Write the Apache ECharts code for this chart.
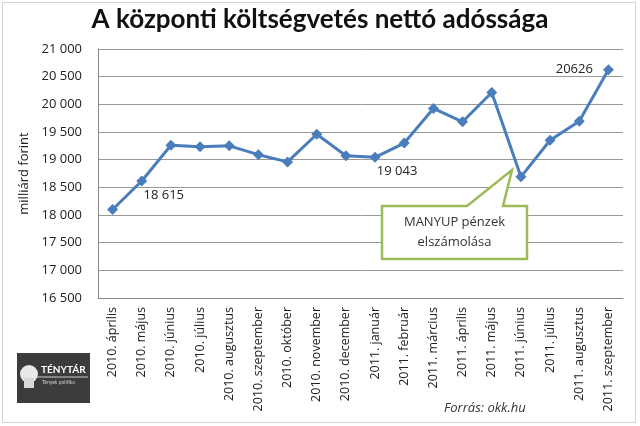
<!DOCTYPE html>
<html><head><meta charset="utf-8">
<script src="https://cdn.jsdelivr.net/npm/echarts@6/dist/echarts.min.js"></script>
<style>html,body{margin:0;padding:0;background:#fff}#c{width:640px;height:426px}</style>
</head><body><div id="c"></div>
<script>
const categories = ["2010. április","2010. május","2010. június","2010. július","2010. augusztus","2010. szeptember","2010. október","2010. november","2010. december","2011. január","2011. február","2011. március","2011. április","2011. május","2011. június","2011. július","2011. augusztus","2011. szeptember"];
const values = [18100, 18615, 19260, 19235, 19250, 19090, 18960, 19460, 19070, 19043, 19300, 19925, 19685, 20215, 18690, 19350, 19695, 20626];
const labelText = {1: "18 615", 9: "19 043", 17: "20626"};
const titleText = "A központi költségvetés nettó adóssága";
const yName = "milliárd forint";
const noteLines = ["MANYUP pénzek", "elszámolása"];
const sourceText = "Forrás: okk.hu";

const FONT = "Open Sans";
const chart = echarts.init(document.getElementById('c'));
const fmt = v => { const s = String(Math.round(v)); return s.length > 3 ? s.slice(0, s.length-3) + " " + s.slice(-3) : s; };

const data = values.map((v, i) => {
  if (!(i in labelText)) return v;
  const lbl = i === 17
    ? {show: true, position: 'left', distance: 10, formatter: labelText[i], color: '#222', fontSize: 13, fontFamily: FONT}
    : {show: true, position: 'bottom', distance: 2, offset: [22, 0], formatter: labelText[i], color: '#222', fontSize: 13, fontFamily: FONT};
  return {value: v, label: lbl};
});

chart.setOption({
  backgroundColor: '#fff',
  animation: false,
  title: {text: titleText, left: 'center', top: 2, textStyle: {fontFamily: 'Lato', fontWeight: 'bold', fontSize: 26, color: '#111'}},
  grid: {left: 98, right: 17, top: 49, bottom: 128},
  xAxis: {
    type: 'category', data: categories, boundaryGap: true,
    axisLine: {lineStyle: {color: '#888'}}, axisTick: {show: false},
    axisLabel: {rotate: 90, fontFamily: FONT, fontSize: 12.5, color: '#222', margin: 9, interval: 0}
  },
  yAxis: {
    type: 'value', min: 16500, max: 21000, interval: 500,
    name: yName, nameLocation: 'middle', nameGap: 57, nameRotate: 90,
    nameTextStyle: {fontFamily: FONT, fontSize: 13, color: '#222'},
    axisLine: {show: true, lineStyle: {color: '#888'}}, axisTick: {show: false},
    axisLabel: {formatter: fmt, fontFamily: FONT, fontSize: 13, color: '#222', margin: 16},
    splitLine: {lineStyle: {color: '#999', width: 1}}
  },
  series: [{
    type: 'line', data: data,
    symbol: 'diamond', symbolSize: 11,
    lineStyle: {color: '#4a7ebb', width: 3},
    itemStyle: {color: '#4a7ebb'}
  }],
  graphic: [
    {type: 'rect', shape: {x: 2.5, y: 2.5, width: 633, height: 420}, style: {fill: 'none', stroke: '#d4d4d4', lineWidth: 1}, z: -1},
    {type: 'polygon', shape: {points: [[382,206],[467,206],[512,170],[503,206],[527,206],[527,259],[382,259]]},
      style: {fill: '#fff', stroke: '#9bbb59', lineWidth: 2.5}, z: 10},
    {type: 'text', x: 454.5, y: 222, style: {text: noteLines[0], font: '13px ' + FONT, fill: '#333', textAlign: 'center', textVerticalAlign: 'middle'}, z: 11},
    {type: 'text', x: 454.5, y: 242, style: {text: noteLines[1], font: '13px ' + FONT, fill: '#333', textAlign: 'center', textVerticalAlign: 'middle'}, z: 11},
    {type: 'text', x: 444, y: 408, style: {text: sourceText, font: 'italic 13px ' + FONT, fill: '#333', textVerticalAlign: 'middle'}, z: 11},
    {type: 'rect', shape: {x: 17, y: 353, width: 73, height: 50}, style: {fill: '#3c3c3c'}},
    {type: 'circle', shape: {cx: 29, cy: 374, r: 9}, style: {fill: '#e8e8e8'}},
    {type: 'rect', shape: {x: 24, y: 378, width: 10, height: 10}, style: {fill: '#d8d8d8'}},
    {type: 'text', x: 41, y: 370, style: {text: 'TÉNYTÁR', font: 'bold 10px Lato', fill: '#fff', textVerticalAlign: 'middle'}},
    {type: 'line', shape: {x1: 37, y1: 377, x2: 88, y2: 377}, style: {stroke: '#ccc', lineWidth: 1}},
    {type: 'text', x: 42, y: 382, style: {text: 'Tények politika', font: '5px Lato', fill: '#ccc', textVerticalAlign: 'middle'}}
  ]
});
</script></body></html>
